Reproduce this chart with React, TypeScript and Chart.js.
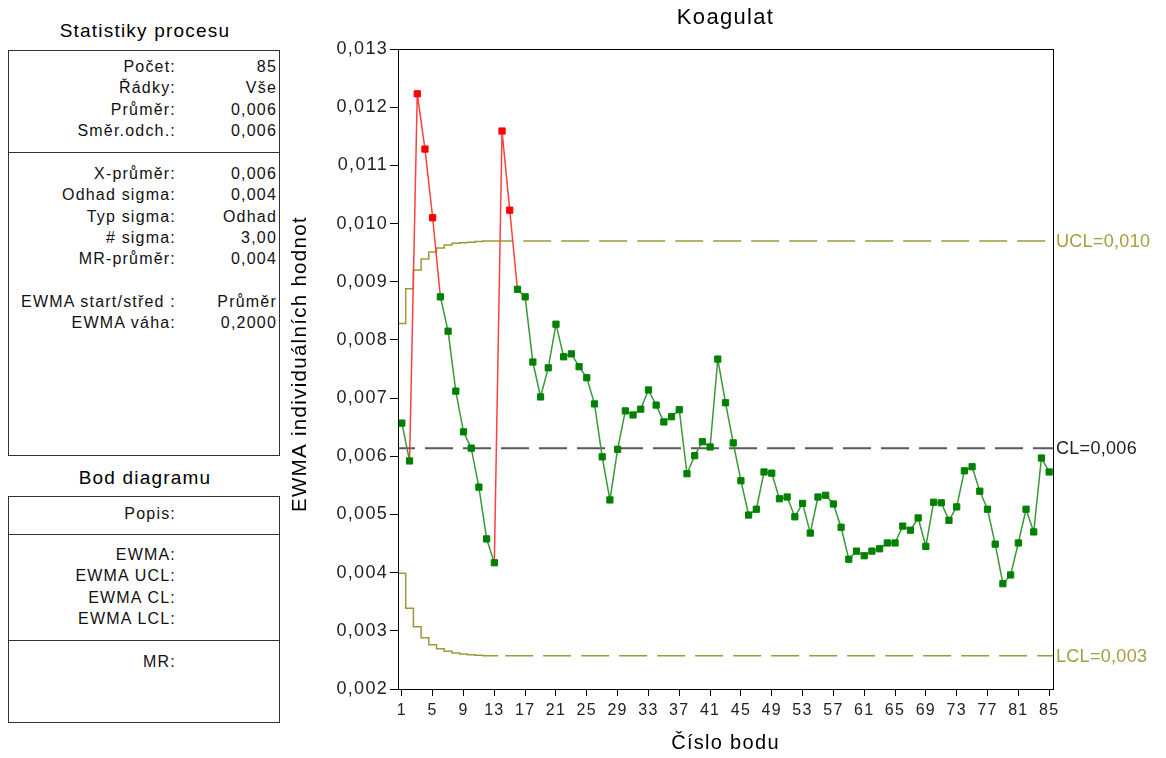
import React, { useEffect, useRef } from 'react';
import { Chart, registerables } from 'chart.js';

Chart.register(...registerables);

const FONT = "'Liberation Sans', Arial, sans-serif";

const chartTitle = 'Koagulat';
const xAxisTitle = 'Číslo bodu';
const yAxisTitle = 'EWMA individuálních hodnot';

const pointNumbers = Array.from({ length: 85 }, (_, i) => i + 1);

const ewmaValues = [
  0.00657, 0.00592, 0.01223, 0.01128, 0.0101, 0.00874, 0.00815, 0.00712, 0.00642, 0.00614,
  0.00547, 0.00458, 0.00417, 0.01159, 0.01023, 0.00887, 0.00874, 0.00762, 0.00702, 0.00752,
  0.00827, 0.00771, 0.00776, 0.00754, 0.00735, 0.0069, 0.00599, 0.00525, 0.00612, 0.00678,
  0.00671, 0.00681, 0.00714, 0.00688, 0.00659, 0.00668, 0.0068, 0.0057, 0.00601, 0.00625,
  0.00616, 0.00767, 0.00692, 0.00623, 0.00558, 0.00499, 0.00509, 0.00573, 0.00571, 0.00527,
  0.0053, 0.00496, 0.00519, 0.00468, 0.0053, 0.00533, 0.00518, 0.00478, 0.00423, 0.00437,
  0.00429, 0.00437, 0.00441, 0.00451, 0.00451, 0.0048, 0.00473, 0.00494, 0.00445, 0.00521,
  0.0052, 0.0049, 0.00513, 0.00575, 0.00582, 0.0054, 0.00509, 0.00449, 0.00381, 0.00396,
  0.00451, 0.00509, 0.0047, 0.00597, 0.00573,
];

const outOfControlPoints = [3, 4, 5, 14, 15];

const centerLine = 0.00614;
const uclRamp = [0.00828, 0.00888, 0.0092, 0.00939, 0.00951, 0.00958, 0.00963, 0.00966, 0.00967, 0.00968, 0.00969, 0.0097, 0.0097];
const uclSteady = 0.0097;
const lclRamp = [0.00399, 0.00339, 0.00307, 0.00288, 0.00276, 0.00269, 0.00265, 0.00262, 0.0026, 0.00259, 0.00258, 0.00257, 0.00257];
const lclSteady = 0.00257;

const xTickValues = [1, 5, 9, 13, 17, 21, 25, 29, 33, 37, 41, 45, 49, 53, 57, 61, 65, 69, 73, 77, 81, 85];
const yTickValues = [0.002, 0.003, 0.004, 0.005, 0.006, 0.007, 0.008, 0.009, 0.01, 0.011, 0.012, 0.013];
const limitLabels = ['UCL=0,010', 'CL=0,006', 'LCL=0,003'];

const statsTitle = 'Statistiky procesu';
const statsLabelsA = ['Počet:', 'Řádky:', 'Průměr:', 'Směr.odch.:'];
const statsValuesA = ['85', 'Vše', '0,006', '0,006'];
const statsLabelsB = ['X-průměr:', 'Odhad sigma:', 'Typ sigma:', '# sigma:', 'MR-průměr:', '', 'EWMA start/střed :', 'EWMA váha:'];
const statsValuesB = ['0,006', '0,004', 'Odhad', '3,00', '0,004', '', 'Průměr', '0,2000'];

const pointTitle = 'Bod diagramu';
const pointLabelsA = ['Popis:'];
const pointLabelsB = ['EWMA:', 'EWMA UCL:', 'EWMA CL:', 'EWMA LCL:'];
const pointLabelsC = ['MR:'];

const OLIVE_LINE = '#9a9a3a';
const OLIVE_TEXT = '#a0a040';
const GREEN_MARK = '#008000';
const GREEN_LINE = '#3a983a';
const RED_MARK = '#ff0000';
const RED_LINE = '#ff4040';

const isRed = (idx: number) => outOfControlPoints.includes(idx + 1);

const spacingPlugin = {
  id: 'spacing',
  beforeLayout(chart: any) {
    chart.ctx.letterSpacing = '1.3px';
  },
  beforeDraw(chart: any) {
    chart.ctx.letterSpacing = '1.3px';
  },
};

const framePlugin = {
  id: 'frame',
  afterDatasetsDraw(chart: any) {
    const { ctx, chartArea: a } = chart;
    ctx.save();
    ctx.strokeStyle = '#000';
    ctx.lineWidth = 1;
    ctx.strokeRect(a.left + 0.5, a.top + 0.5, a.right - a.left, a.bottom - a.top);
    ctx.restore();
  },
};

const yTitlePlugin = {
  id: 'yTitle',
  afterDraw(chart: any) {
    const { ctx } = chart;
    ctx.save();
    ctx.letterSpacing = '1.3px';
    ctx.font = `20.5px ${FONT}`;
    ctx.fillStyle = '#000';
    ctx.textAlign = 'left';
    ctx.textBaseline = 'middle';
    ctx.translate(300, 512);
    ctx.rotate(-Math.PI / 2);
    ctx.fillText(yAxisTitle, 0, 0);
    ctx.restore();
  },
};

const limitLabelPlugin = {
  id: 'limitLabels',
  afterDraw(chart: any) {
    const { ctx, chartArea: a } = chart;
    const y = chart.scales.y;
    ctx.save();
    ctx.letterSpacing = '0.3px';
    ctx.font = `18px ${FONT}`;
    ctx.textAlign = 'left';
    ctx.textBaseline = 'middle';
    const items: [number, string, string][] = [
      [uclSteady, limitLabels[0], OLIVE_TEXT],
      [centerLine, limitLabels[1], '#222'],
      [lclSteady, limitLabels[2], OLIVE_TEXT],
    ];
    items.forEach(([v, t, c]) => {
      ctx.fillStyle = c;
      ctx.fillText(t, a.right + 3, y.getPixelForValue(v) + 1);
    });
    ctx.restore();
  },
};

function ChartCanvas() {
  const ref = useRef<HTMLCanvasElement | null>(null);
  useEffect(() => {
    if (!ref.current) return;
    const rampData = (ramp: number[]) => [
      { x: 0.5, y: ramp[0] },
      ...ramp.map((v, i) => ({ x: i + 1, y: v })),
      { x: ramp.length + 0.5, y: ramp[ramp.length - 1] },
    ];
    const chart = new Chart(ref.current, {
      type: 'line',
      data: {
        datasets: [
          {
            label: 'EWMA',
            data: pointNumbers.map((x, i) => ({ x, y: ewmaValues[i] })),
            borderColor: GREEN_LINE,
            borderWidth: 1.5,
            pointStyle: 'rect',
            pointRadius: 4.4,
            pointBorderWidth: 1,
            pointBackgroundColor: ewmaValues.map((_, i) => (isRed(i) ? RED_MARK : GREEN_MARK)),
            pointBorderColor: ewmaValues.map((_, i) => (isRed(i) ? RED_MARK : GREEN_MARK)),
            segment: {
              borderColor: (c: any) => (isRed(c.p0DataIndex) || isRed(c.p1DataIndex) ? RED_LINE : GREEN_LINE),
            },
          } as any,
          {
            label: 'UCL ramp',
            data: rampData(uclRamp),
            borderColor: OLIVE_LINE,
            borderWidth: 1.5,
            pointRadius: 0,
            stepped: 'middle',
          },
          {
            label: 'UCL',
            data: [{ x: uclRamp.length + 0.5, y: uclSteady }, { x: 85.5, y: uclSteady }],
            borderColor: OLIVE_LINE,
            borderWidth: 1.5,
            pointRadius: 0,
            borderDash: [28, 10],
            borderDashOffset: 13,
          },
          {
            label: 'CL',
            data: [{ x: 0.5, y: centerLine }, { x: 85.5, y: centerLine }],
            borderColor: '#585858',
            borderWidth: 2,
            pointRadius: 0,
            borderDash: [28, 10],
            borderDashOffset: 11,
          },
          {
            label: 'LCL ramp',
            data: rampData(lclRamp),
            borderColor: OLIVE_LINE,
            borderWidth: 1.5,
            pointRadius: 0,
            stepped: 'middle',
          },
          {
            label: 'LCL',
            data: [{ x: lclRamp.length + 0.5, y: lclSteady }, { x: 85.5, y: lclSteady }],
            borderColor: OLIVE_LINE,
            borderWidth: 1.5,
            pointRadius: 0,
            borderDash: [28, 10],
            borderDashOffset: 31,
          },
        ],
      },
      options: {
        responsive: false,
        animation: false,
        events: [],
        layout: { padding: { left: 287, right: 113, top: 0, bottom: 0 } },
        plugins: {
          legend: { display: false },
          tooltip: { enabled: false },
          title: {
            display: true,
            text: chartTitle,
            fullSize: false,
            color: '#000',
            font: { family: FONT, size: 22, weight: 'normal' },
            padding: { top: 5, bottom: 17.6 },
          },
        },
        scales: {
          x: {
            type: 'linear',
            min: 0.5,
            max: 85.5,
            afterBuildTicks: (s: any) => {
              s.ticks = xTickValues.map((v) => ({ value: v }));
            },
            afterFit: (s: any) => {
              s.height = 69;
            },
            ticks: {
              autoSkip: false,
              maxRotation: 0,
              color: '#222',
              padding: 5,
              font: { family: FONT, size: 16 },
              callback: (v: any) => String(v),
            },
            grid: { drawOnChartArea: false, drawTicks: true, tickLength: 7, color: '#000' },
            border: { display: false },
            title: {
              display: true,
              text: xAxisTitle,
              color: '#000',
              font: { family: FONT, size: 20 },
              padding: { top: 0, bottom: 3 },
            },
          },
          y: {
            type: 'linear',
            min: 0.002,
            max: 0.013,
            afterBuildTicks: (s: any) => {
              s.ticks = yTickValues.map((v) => ({ value: v }));
            },
            afterFit: (s: any) => {
              s.width = 111;
            },
            ticks: {
              color: '#222',
              padding: 2,
              font: { family: FONT, size: 18 },
              callback: (v: any) => Number(v).toFixed(3).replace('.', ','),
            },
            grid: { drawOnChartArea: false, drawTicks: true, tickLength: 8, color: '#000' },
            border: { display: false },
            title: { display: false },
          },
        },
      } as any,
      plugins: [spacingPlugin, framePlugin, limitLabelPlugin, yTitlePlugin],
    });
    return () => chart.destroy();
  }, []);
  return (
    <canvas
      ref={ref}
      width={1166}
      height={758}
      style={{ position: 'absolute', left: 0, top: 0, width: 1166, height: 758 }}
    />
  );
}

const textStyle: React.CSSProperties = {
  position: 'absolute',
  fontFamily: FONT,
  fontSize: 16,
  letterSpacing: '1.2px',
  lineHeight: '20px',
  height: 20,
  color: '#111',
  whiteSpace: 'nowrap',
};

function Row({ cy, label, value }: { cy: number; label: string; value?: string }) {
  return (
    <>
      <div style={{ ...textStyle, top: cy - 10, left: 0, width: 176, textAlign: 'right' }}>{label}</div>
      {value !== undefined && (
        <div style={{ ...textStyle, top: cy - 10, left: 180, width: 97, textAlign: 'right' }}>{value}</div>
      )}
    </>
  );
}

function Box({ top, bottom }: { top: number; bottom: number }) {
  return (
    <div
      style={{
        position: 'absolute',
        left: 8,
        top,
        width: 272,
        height: bottom - top + 1,
        border: '1px solid #333',
        boxSizing: 'border-box',
      }}
    />
  );
}

function HLine({ y }: { y: number }) {
  return <div style={{ position: 'absolute', left: 8, top: y, width: 272, height: 1, background: '#333' }} />;
}

function Title({ cy, text }: { cy: number; text: string }) {
  return (
    <div
      style={{
        ...textStyle,
        fontSize: 19,
        color: '#000',
        top: cy - 11,
        height: 22,
        lineHeight: '22px',
        left: 8,
        width: 274,
        textAlign: 'center',
      }}
    >
      {text}
    </div>
  );
}

function Panel() {
  const step = 21.3;
  return (
    <div style={{ position: 'absolute', left: 0, top: 0, width: 290, height: 758 }}>
      <Title cy={31} text={statsTitle} />
      <Box top={50} bottom={455} />
      <HLine y={152} />
      {statsLabelsA.map((l, i) => (
        <Row key={'a' + i} cy={67 + i * step} label={l} value={statsValuesA[i]} />
      ))}
      {statsLabelsB.map((l, i) => (
        <Row key={'b' + i} cy={174 + i * step} label={l} value={statsValuesB[i]} />
      ))}
      <Title cy={478} text={pointTitle} />
      <Box top={496} bottom={722} />
      <HLine y={534} />
      <HLine y={640} />
      {pointLabelsA.map((l, i) => (
        <Row key={'c' + i} cy={514 + i * step} label={l} />
      ))}
      {pointLabelsB.map((l, i) => (
        <Row key={'d' + i} cy={555 + i * step} label={l} />
      ))}
      {pointLabelsC.map((l, i) => (
        <Row key={'e' + i} cy={662 + i * step} label={l} />
      ))}
    </div>
  );
}

export default function App() {
  return (
    <div style={{ position: 'absolute', left: 0, top: 0, width: 1166, height: 758, background: '#fff' }}>
      <Panel />
      <ChartCanvas />
    </div>
  );
}
